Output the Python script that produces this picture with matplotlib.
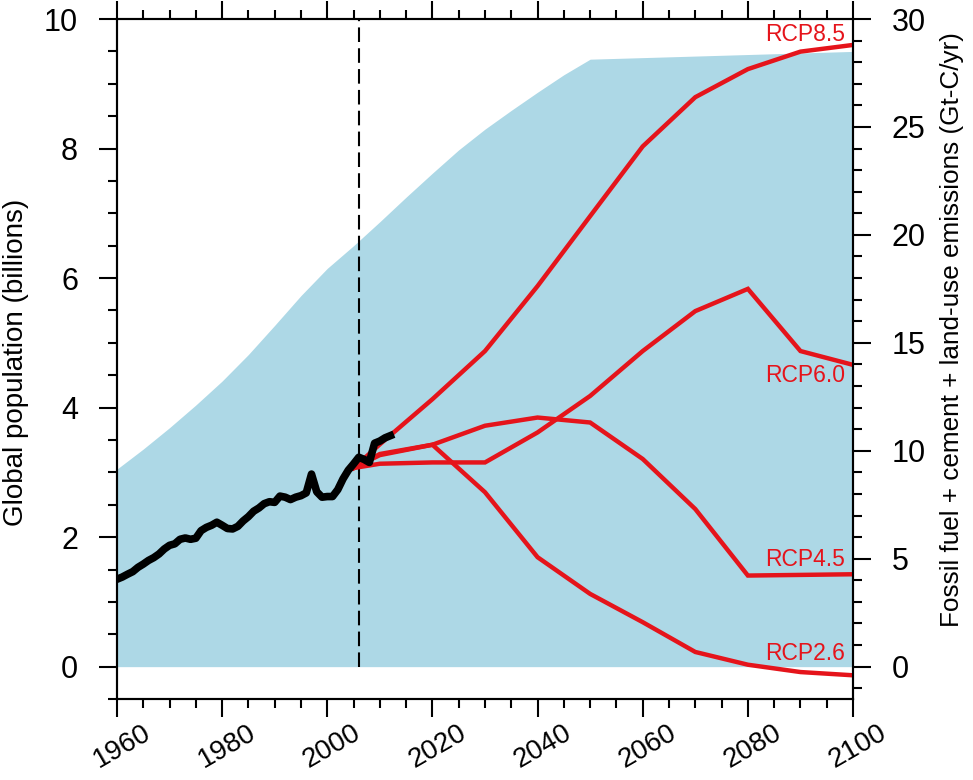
import matplotlib
matplotlib.use("Agg")
import matplotlib.pyplot as plt
import matplotlib.transforms as mtransforms
from matplotlib.ticker import MultipleLocator

plt.rcParams['font.family'] = ['Liberation Sans', 'DejaVu Sans']

# population (billions), left axis
pop_years = [1960, 1965, 1970, 1975, 1980, 1985, 1990, 1995, 2000, 2005,
             2010, 2015, 2020, 2025, 2030, 2035, 2040, 2045, 2050, 2100]
pop = [3.05, 3.36, 3.69, 4.04, 4.41, 4.82, 5.27, 5.73, 6.15, 6.50,
       6.87, 7.25, 7.62, 7.98, 8.30, 8.59, 8.87, 9.14, 9.38, 9.50]

# historical emissions (Gt-C/yr), right axis
hist_years = list(range(1960, 2013))
hist = [4.05, 4.15, 4.28, 4.40, 4.60, 4.75, 4.92, 5.05, 5.22, 5.45,
        5.62, 5.69, 5.90, 5.96, 5.90, 5.95, 6.30, 6.45, 6.55, 6.69,
        6.55, 6.40, 6.38, 6.50, 6.75, 6.95, 7.20, 7.35, 7.55, 7.64,
        7.61, 7.90, 7.85, 7.74, 7.85, 7.92, 8.05, 8.92, 8.10, 7.85,
        7.88, 7.88, 8.20, 8.70, 9.10, 9.39, 9.70, 9.60, 9.46, 10.35,
        10.45, 10.60, 10.70]

# RCP scenarios
rcp_years = [2005, 2010, 2020, 2030, 2040, 2050, 2060, 2070, 2080, 2090, 2100]
rcp26 = [9.2, 9.80, 10.28, 8.08, 5.07, 3.37, 2.06, 0.68, 0.09, -0.25, -0.40]
rcp45 = [9.2, 9.85, 10.28, 11.16, 11.54, 11.31, 9.62, 7.30, 4.22, 4.25, 4.28]
rcp60 = [9.2, 9.40, 9.46, 9.46, 10.85, 12.54, 14.62, 16.47, 17.50, 14.62, 13.98]
rcp85 = [9.2, 10.30, 12.39, 14.62, 17.63, 20.87, 24.10, 26.38, 27.68, 28.49, 28.80]

red = '#e5141b'
fig = plt.figure(figsize=(9.73, 7.8), dpi=100)
ax = fig.add_axes([0.1202, 0.1038, 0.7565, 0.8718])

ax.fill_between(pop_years, 0, pop, color='#add8e6', lw=0)
ax.vlines(2006, 0, 10, colors='black', linestyles=(0, (7, 3)), lw=1.5)
ax.set_xlim(1960, 2100)
ax.set_ylim(-0.5, 10)
ax.set_ylabel('Global population (billions)', fontsize=20)
ax.yaxis.set_label_coords(-0.120, 0.495)

ax2 = ax.twinx()
ax2.set_ylim(-1.5, 30)
for vals in [rcp26, rcp45, rcp60, rcp85]:
    ax2.plot(rcp_years, vals, color=red, lw=3.2, solid_joinstyle='miter')
ax2.plot(hist_years, hist, color='black', lw=5.5, solid_joinstyle='round')
ax2.set_ylabel('Fossil fuel + cement + land-use emissions (Gt-C/yr)',
               fontsize=18.8)
ax2.yaxis.set_label_coords(1.118, 0.544)

labels = [('RCP8.5', 29.3), ('RCP6.0', 13.47), ('RCP4.5', 4.96), ('RCP2.6', 0.63)]
for name, yv in labels:
    ax2.text(2098.5, yv, name, color=red, fontsize=16.5, ha='right', va='center')

ax.xaxis.set_major_locator(MultipleLocator(20))
ax.xaxis.set_minor_locator(MultipleLocator(5))
ax.yaxis.set_major_locator(MultipleLocator(2))
ax.yaxis.set_minor_locator(MultipleLocator(0.5))
ax2.yaxis.set_major_locator(MultipleLocator(5))
ax2.yaxis.set_minor_locator(MultipleLocator(1))

ax.tick_params(which='both', direction='out', width=1.5, top=True)
ax.tick_params(which='major', length=13)
ax.tick_params(which='minor', length=6.5)
ax.tick_params(axis='y', labelsize=22, pad=15)
ax.tick_params(axis='x', labelsize=20, pad=2)
ax2.tick_params(which='both', direction='out', width=1.5, labelsize=22, pad=15)
ax2.tick_params(which='major', length=13)
ax2.tick_params(which='minor', length=6.5)

# shift the rotated year labels a little to the right, as in the original
shift = mtransforms.ScaledTranslation(5 / 100, 0, fig.dpi_scale_trans)
for lab in ax.get_xticklabels():
    lab.set_rotation(30)
    lab.set_ha('center')
    lab.set_transform(lab.get_transform() + shift)

for a in (ax, ax2):
    for s in a.spines.values():
        s.set_linewidth(1.5)

fig.savefig('out.png', dpi=100)
